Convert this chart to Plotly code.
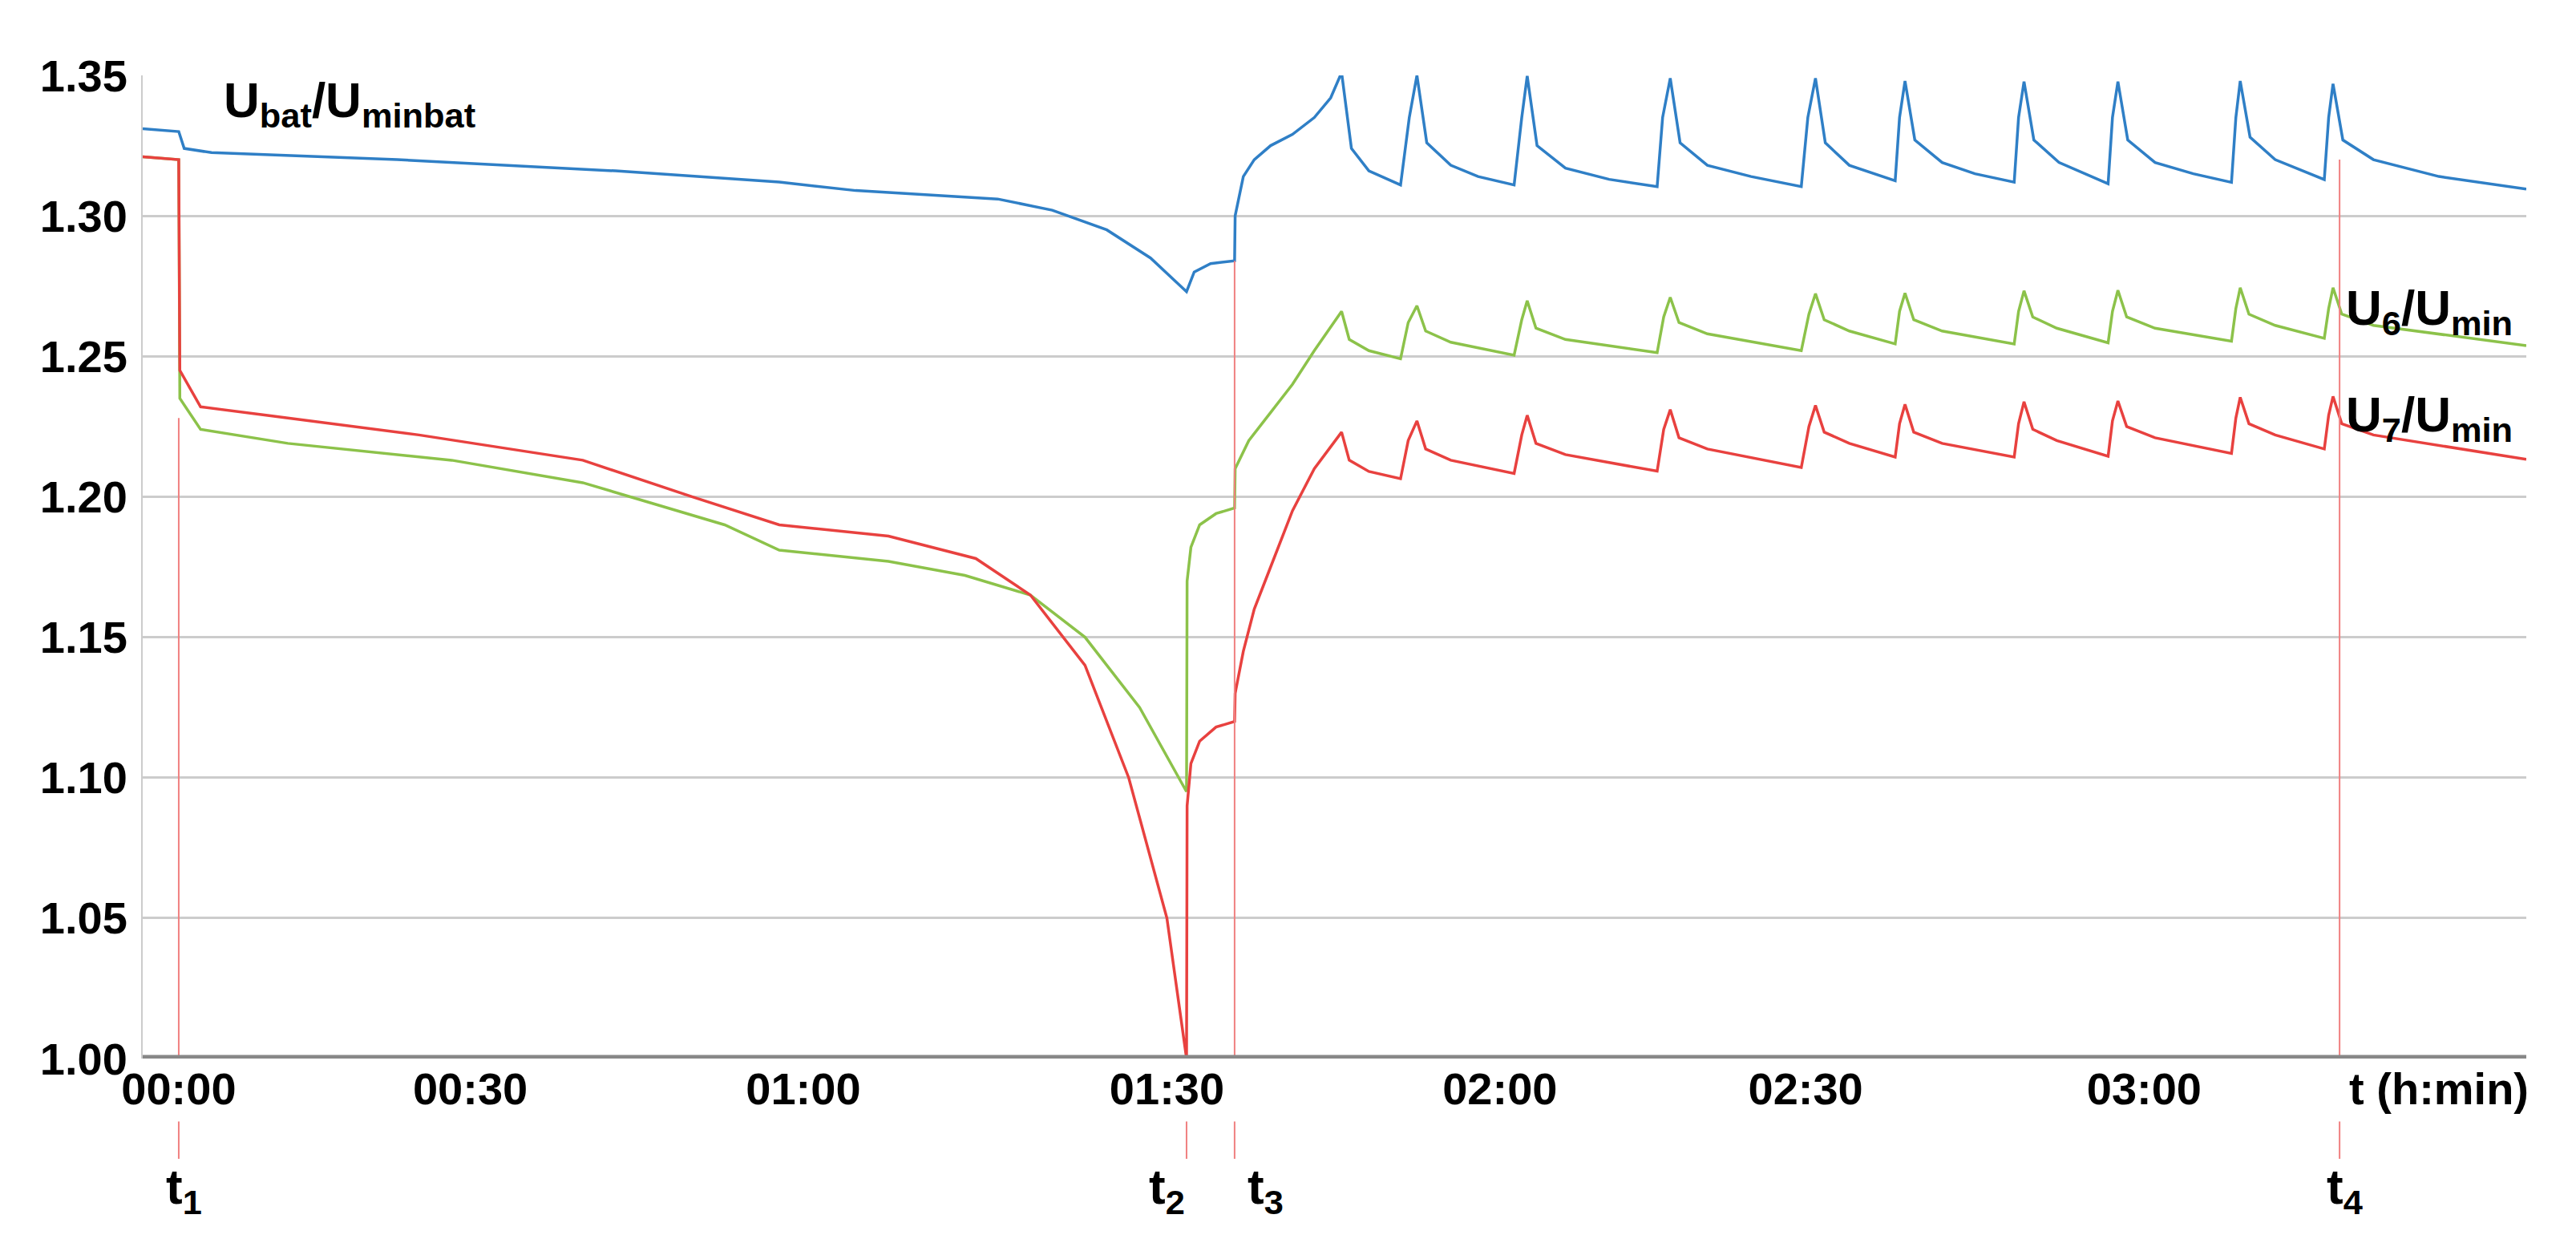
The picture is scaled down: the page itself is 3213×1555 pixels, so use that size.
import plotly.graph_objects as go

# time in minutes (axis positions), values are U/Umin
blue_t = [-3.3, 0, 0.5, 3, 20, 40, 55, 62, 75, 80, 85, 89, 92.3, 93, 94.5, 96.7,
          96.75, 97.5, 98.5, 100, 102, 104, 105.5, 106.5,
          107.4, 109, 111.9, 112.7, 113.4, 114.3, 116.5, 119, 122.3,
          123, 123.5, 124.4, 127, 131, 135.4, 135.9, 136.6, 137.5, 140, 144, 148.6,
          149.2, 149.9, 150.8, 153, 157.2, 157.6, 158.1, 159, 161.5, 164.5, 168.1,
          168.5, 169, 169.9, 172.2, 176.7, 177.1, 177.6, 178.5, 181, 184.5, 188,
          188.4, 188.8, 189.7, 192, 196.5, 196.9, 197.3, 198.2, 201, 207, 215]
blue_v = [1.331, 1.330, 1.324, 1.3225, 1.320, 1.316, 1.312, 1.309, 1.306, 1.302, 1.295, 1.285, 1.273, 1.280, 1.283, 1.284,
          1.300, 1.314, 1.320, 1.325, 1.329, 1.335, 1.342, 1.351,
          1.324, 1.316, 1.311, 1.335, 1.350, 1.326, 1.318, 1.314, 1.311,
          1.335, 1.3498, 1.325, 1.317, 1.313, 1.3104, 1.335, 1.349, 1.326, 1.318, 1.314, 1.3104,
          1.335, 1.349, 1.326, 1.318, 1.3125, 1.335, 1.348, 1.327, 1.319, 1.315, 1.312,
          1.335, 1.3478, 1.327, 1.319, 1.3114, 1.335, 1.3478, 1.327, 1.319, 1.315, 1.3119,
          1.335, 1.348, 1.328, 1.320, 1.3129, 1.335, 1.347, 1.327, 1.320, 1.314, 1.3095]

green_t = [-3.3, 0, 0.1, 2, 10, 25, 37, 50, 55, 65, 72, 78, 83, 88, 92.3,
           92.35, 92.7, 93.5, 95, 96.7, 96.75, 98, 100, 102, 104, 106.5,
           107.2, 109, 111.9, 112.6, 113.4, 114.2, 116.5, 122.3,
           123, 123.5, 124.3, 127, 135.4, 136, 136.6, 137.4, 140, 148.6,
           149.3, 149.9, 150.7, 153, 157.2, 157.6, 158.1, 158.9, 161.5, 168.1,
           168.5, 169, 169.8, 172, 176.7, 177.1, 177.6, 178.4, 181, 188,
           188.4, 188.8, 189.6, 192, 196.5, 196.9, 197.3, 198.1, 201, 215]
green_v = [1.321, 1.320, 1.235, 1.224, 1.219, 1.213, 1.205, 1.190, 1.181, 1.177, 1.172, 1.165, 1.150, 1.125, 1.095,
           1.170, 1.182, 1.190, 1.194, 1.196, 1.210, 1.220, 1.230, 1.240, 1.252, 1.266,
           1.256, 1.252, 1.2491, 1.262, 1.268, 1.259, 1.255, 1.2504,
           1.263, 1.2698, 1.260, 1.256, 1.2513, 1.264, 1.271, 1.262, 1.258, 1.252,
           1.265, 1.2723, 1.263, 1.259, 1.2544, 1.266, 1.2725, 1.263, 1.259, 1.2544,
           1.266, 1.2733, 1.264, 1.260, 1.2548, 1.266, 1.2735, 1.264, 1.260, 1.2554,
           1.267, 1.2744, 1.265, 1.261, 1.2564, 1.267, 1.2744, 1.265, 1.261, 1.2538]

red_t = [-3.3, 0, 0.1, 2, 8, 22, 37, 47, 55, 65, 73, 78, 83, 87, 90.5, 92.3,
         92.35, 92.7, 93.5, 95, 96.7, 96.75, 97.5, 98.5, 100, 102, 104, 106.5,
         107.2, 109, 111.9, 112.6, 113.4, 114.2, 116.5, 122.3,
         123, 123.5, 124.3, 127, 135.4, 136, 136.6, 137.4, 140, 148.6,
         149.3, 149.9, 150.7, 153, 157.2, 157.6, 158.1, 158.9, 161.5, 168.1,
         168.5, 169, 169.8, 172, 176.7, 177.1, 177.6, 178.4, 181, 188,
         188.4, 188.8, 189.6, 192, 196.5, 196.9, 197.3, 198.1, 201, 215]
red_v = [1.321, 1.320, 1.245, 1.232, 1.229, 1.222, 1.213, 1.200, 1.190, 1.186, 1.178, 1.165, 1.140, 1.100, 1.050, 1.000,
         1.090, 1.105, 1.113, 1.118, 1.120, 1.130, 1.145, 1.160, 1.175, 1.195, 1.210, 1.223,
         1.213, 1.209, 1.2064, 1.220, 1.227, 1.217, 1.213, 1.2083,
         1.222, 1.229, 1.219, 1.215, 1.2091, 1.224, 1.231, 1.221, 1.217, 1.2104,
         1.225, 1.2325, 1.223, 1.219, 1.2141, 1.226, 1.2329, 1.223, 1.219, 1.2141,
         1.226, 1.2338, 1.224, 1.220, 1.2144, 1.227, 1.2341, 1.225, 1.221, 1.2154,
         1.228, 1.2354, 1.226, 1.222, 1.217, 1.229, 1.2357, 1.226, 1.222, 1.2133]

tick_pos = [0, 26.7, 57.2, 90.5, 121, 149, 180, 207]
tick_text = ["00:00", "00:30", "01:00", "01:30", "02:00", "02:30", "03:00", "t (h:min)"]
y_ticks = [1.00, 1.05, 1.10, 1.15, 1.20, 1.25, 1.30, 1.35]

marker_t = [0, 92.3, 96.7, 197.9]
marker_top = [1.228, 1.0, 1.284, 1.32]
marker_lbl = ["t<sub>1</sub>", "t<sub>2</sub>", "t<sub>3</sub>", "t<sub>4</sub>"]
marker_lbl_dx = [0.5, -1.8, 2.8, 0.5]

F = "Liberation Sans, Arial, sans-serif"
fig = go.Figure()
fig.add_trace(go.Scatter(x=blue_t, y=blue_v, mode="lines", line=dict(color="#2f7fc6", width=3.5)))
fig.add_trace(go.Scatter(x=green_t, y=green_v, mode="lines", line=dict(color="#8cc24a", width=3.5)))
fig.add_trace(go.Scatter(x=red_t, y=red_v, mode="lines", line=dict(color="#e8413f", width=3.5)))

for t, top, lbl, dx in zip(marker_t, marker_top, marker_lbl, marker_lbl_dx):
    fig.add_shape(type="line", x0=t, x1=t, y0=1.0, y1=top, xref="x", yref="y",
                  line=dict(color="#f08080", width=2), layer="above")
    fig.add_shape(type="line", x0=t, x1=t, y0=-0.064, y1=-0.102, xref="x", yref="paper",
                  line=dict(color="#f08080", width=2))
    fig.add_annotation(x=t + dx, y=-0.1, xref="x", yref="paper", text="<b>" + lbl + "</b>",
                       showarrow=False, yanchor="top", font=dict(family=F, size=62, color="black"))

lab_font = dict(family=F, size=62, color="black")
fig.add_annotation(x=4.0, y=1.005, xref="x", yref="paper", text="<b>U<sub>bat</sub>/U<sub>minbat</sub></b>",
                   showarrow=False, xanchor="left", yanchor="top", font=lab_font)
fig.add_annotation(x=198.3, y=1.266, xref="x", yref="y", text="<b>U<sub>6</sub>/U<sub>min</sub></b>",
                   showarrow=False, xanchor="left", font=lab_font)
fig.add_annotation(x=198.3, y=1.228, xref="x", yref="y", text="<b>U<sub>7</sub>/U<sub>min</sub></b>",
                   showarrow=False, xanchor="left", font=lab_font)

fig.update_layout(
    width=3213, height=1555, showlegend=False,
    paper_bgcolor="white", plot_bgcolor="white",
    margin=dict(l=170, r=70, t=86, b=243),
    xaxis=dict(range=[-3.3, 215], tickvals=tick_pos, ticktext=tick_text, showgrid=False,
               showline=False, zeroline=False, ticks="", ticklen=0,
               tickfont=dict(family=F, size=56, color="black", weight="bold")),
    yaxis=dict(range=[1.0, 1.35], tickvals=y_ticks, tickformat=".2f", showgrid=True,
               gridcolor="#cccccc", gridwidth=3, showline=True, linecolor="#cccccc", linewidth=2,
               zeroline=False, ticks="", ticklabelstandoff=6,
               tickfont=dict(family=F, size=56, color="black", weight="bold")),
)
fig.add_shape(type="line", x0=0, x1=1, y0=1.0, y1=1.0, xref="paper", yref="y",
              line=dict(color="#888888", width=9), layer="above")
fig.write_html("out.html")
